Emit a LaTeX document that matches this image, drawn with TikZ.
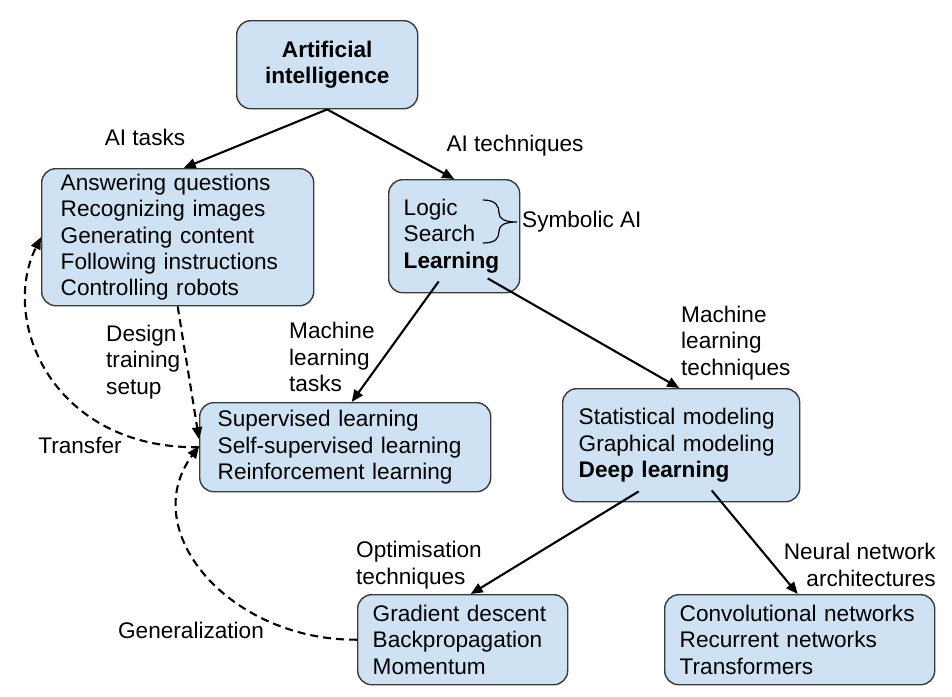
\documentclass[tikz,border=0pt]{standalone}
\usepackage{fontspec}
\setmainfont{Liberation Sans}
\usetikzlibrary{arrows.meta}
\definecolor{boxfill}{HTML}{CFE2F3}
\definecolor{boxline}{HTML}{3A3A3A}
\newcommand\myfs{\fontsize{22.6}{26.4}\selectfont}
\begin{document}
\begin{tikzpicture}[x=1pt,y=-1pt,
  every node/.style={font=\myfs},
  box/.style={draw=boxline, line width=1.4pt, fill=boxfill, rounded corners=14pt,
    anchor=north west, inner ysep=0pt, align=left},
  lbl/.style={inner sep=0pt, align=left},
  arr/.style={line width=2.1pt, -{Triangle[length=12pt,width=10pt]}},
  darr/.style={line width=2.1pt, dash pattern=on 8pt off 5pt, -{Triangle[length=12pt,width=10pt]}}]
\useasboundingbox (0,0) rectangle (952,696);

% boxes
\node[box, minimum height=88pt, inner xsep=0pt, text width=181pt, align=center,
  font=\myfs\bfseries] (ai) at (236,20) {Artificial\\intelligence};
\node[box, minimum height=137pt, inner xsep=19pt, text width=234pt] (tasks) at (41,168)
  {Answering questions\\Recognizing images\\Generating content\\Following instructions\\Controlling robots};
\node[box, minimum height=113pt, inner xsep=15pt, text width=101pt] (tech) at (388,179)
  {Logic\\Search\\\textbf{Learning}};
\node[box, minimum height=89pt, inner xsep=18pt, text width=255pt] (mltasks) at (199,402)
  {Supervised learning\\Self-supervised learning\\Reinforcement learning};
\node[box, minimum height=113pt, inner xsep=16pt, text width=205pt] (mltech) at (562,388)
  {Statistical modeling\\Graphical modeling\\\textbf{Deep learning}};
\node[box, minimum height=90pt, inner xsep=15pt, text width=180pt] (opt) at (357,594)
  {Gradient descent\\Backpropagation\\Momentum};
\node[box, minimum height=90pt, inner xsep=15pt, text width=240pt] (nn) at (664,594)
  {Convolutional networks\\Recurrent networks\\Transformers};

% labels
\node[lbl] (l1) at (145,137) {AI tasks};
\node[lbl] (l2) at (515,146) {AI techniques};
\node[lbl, anchor=west] (sym) at (522,222) {Symbolic AI};
\node[lbl, anchor=west] (l3) at (289,357) {Machine\\learning\\tasks};
\node[lbl, anchor=west] (l4) at (681,343) {Machine\\learning\\techniques};
\node[lbl, anchor=west] (l5) at (106,362) {Design\\training\\setup};
\node[lbl] (l6) at (80,445) {Transfer};
\node[lbl, anchor=west] (l7) at (356,565) {Optimisation\\techniques};
\node[lbl, anchor=east, align=right] (l8) at (936,565) {Neural network\\architectures};
\node[lbl] (l9) at (191,630) {Generalization};

% brace
\draw[line width=1.2pt] (483,200) .. controls (496,200) and (499,206) .. (499,213)
  .. controls (499,219) and (505,222) .. (517,222)
  .. controls (505,222) and (499,225) .. (499,231)
  .. controls (499,238) and (496,243) .. (483,243);

% solid arrows
\draw[arr] (ai.south) -- ([xshift=6pt]tasks.north);
\draw[arr] (ai.south) -- (tech.north);
\draw[arr] ([xshift=-15.5pt,yshift=12pt]tech.south) -- ([xshift=6.5pt]mltasks.north);
\draw[arr] ([xshift=33.5pt,yshift=15pt]tech.south) -- ([xshift=-2pt]mltech.north);
\draw[arr] ([xshift=-42.5pt,yshift=11pt]mltech.south) -- ([xshift=8pt]opt.north);
\draw[arr] ([xshift=30.5pt,yshift=12pt]mltech.south) -- ([xshift=-2pt]nn.north);

% dashed arrows
\draw[darr] (tasks.south) to[out=-81,in=99] ([yshift=8pt]mltasks.west);
\draw[darr] (mltasks.west) .. controls +(-145,2) and +(-42,85) .. (tasks.west);
\draw[darr] (opt.west) .. controls +(-127,1) and +(-63,85) .. ([yshift=1pt]mltasks.west);
\end{tikzpicture}
\end{document}
